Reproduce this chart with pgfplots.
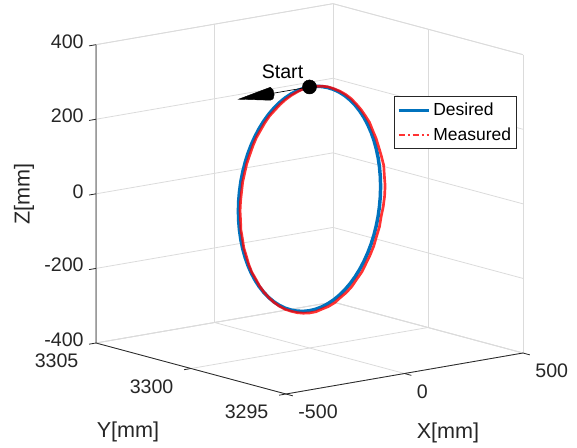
\documentclass[border=0pt]{standalone}
\usepackage{fontspec}
\setmainfont{Liberation Sans}
\usepackage{pgfplots}
\pgfplotsset{compat=1.18}
\usepackage{pgfplotstable}
\definecolor{mblue}{RGB}{0,114,189}
\definecolor{mred}{RGB}{255,0,0}
\definecolor{axgray}{RGB}{38,38,38}
\newcommand\tfont{\fontsize{14.7}{17}\selectfont}
\newcommand\lfont{\fontsize{16.2}{19}\selectfont}
\newcommand\gfont{\fontsize{13.1}{15}\selectfont}

% desired circle, r = 300 mm at Y = 3300 mm
\pgfplotstableread{
x y z
0 3300 300
-26.1 3300 298.9
-52.1 3300 295.4
-77.6 3300 289.8
-102.6 3300 281.9
-126.8 3300 271.9
-150 3300 259.8
-172.1 3300 245.7
-192.8 3300 229.8
-212.1 3300 212.1
-229.8 3300 192.8
-245.7 3300 172.1
-259.8 3300 150
-271.9 3300 126.8
-281.9 3300 102.6
-289.8 3300 77.6
-295.4 3300 52.1
-298.9 3300 26.1
-300 3300 0
-298.9 3300 -26.1
-295.4 3300 -52.1
-289.8 3300 -77.6
-281.9 3300 -102.6
-271.9 3300 -126.8
-259.8 3300 -150
-245.7 3300 -172.1
-229.8 3300 -192.8
-212.1 3300 -212.1
-192.8 3300 -229.8
-172.1 3300 -245.7
-150 3300 -259.8
-126.8 3300 -271.9
-102.6 3300 -281.9
-77.6 3300 -289.8
-52.1 3300 -295.4
-26.1 3300 -298.9
0 3300 -300
26.1 3300 -298.9
52.1 3300 -295.4
77.6 3300 -289.8
102.6 3300 -281.9
126.8 3300 -271.9
150 3300 -259.8
172.1 3300 -245.7
192.8 3300 -229.8
212.1 3300 -212.1
229.8 3300 -192.8
245.7 3300 -172.1
259.8 3300 -150
271.9 3300 -126.8
281.9 3300 -102.6
289.8 3300 -77.6
295.4 3300 -52.1
298.9 3300 -26.1
300 3300 0
298.9 3300 26.1
295.4 3300 52.1
289.8 3300 77.6
281.9 3300 102.6
271.9 3300 126.8
259.8 3300 150
245.7 3300 172.1
229.8 3300 192.8
212.1 3300 212.1
192.8 3300 229.8
172.1 3300 245.7
150 3300 259.8
126.8 3300 271.9
102.6 3300 281.9
77.6 3300 289.8
52.1 3300 295.4
26.1 3300 298.9
0 3300 300
}\desired

% measured path
\pgfplotstableread{
x y z
0 3300 300
-26.1 3300 297.9
-51.6 3300 292.5
-76.6 3300 285.9
-100.9 3300 277.2
-124.3 3300 266.5
-146.5 3300 253.7
-168.6 3300 240.8
-188.3 3300 224.5
-206.5 3300 206.5
-224.4 3300 188.3
-239.2 3300 167.5
-252.0 3300 145.5
-264.6 3300 123.4
-273.5 3300 99.5
-282.1 3300 75.6
-286.6 3300 50.5
-290.9 3300 25.5
-293 3300 0
-290.9 3300 -25.5
-289.5 3300 -51.1
-283.0 3300 -75.8
-277.2 3300 -100.9
-266.5 3300 -124.3
-256.3 3300 -148
-243.3 3300 -170.4
-226.7 3300 -190.3
-210.7 3300 -210.7
-192.2 3300 -229.0
-172.1 3300 -245.7
-150.5 3300 -260.7
-127.6 3300 -273.7
-103.6 3300 -284.7
-78.4 3300 -292.7
-52.8 3300 -299.4
-26.6 3300 -303.8
0 3300 -306
26.8 3300 -305.8
53.1 3300 -301.4
79.7 3300 -297.5
105.7 3300 -290.4
130.2 3300 -279.1
155 3300 -268.5
178.4 3300 -254.8
199.3 3300 -237.5
220.6 3300 -220.6
238.2 3300 -199.9
255.6 3300 -179.0
271.1 3300 -156.5
282.8 3300 -131.9
295.1 3300 -107.4
302.3 3300 -81.0
311.2 3300 -54.9
316.8 3300 -27.7
319 3300 0
315.8 3300 27.6
313.2 3300 55.2
303.3 3300 81.3
292.2 3300 106.4
281.0 3300 131.0
266.7 3300 154
253.1 3300 177.2
235.2 3300 197.3
216.4 3300 216.4
196.1 3300 233.6
174.9 3300 249.8
152 3300 263.3
128.1 3300 274.6
103.3 3300 283.8
78.2 3300 291.7
52.3 3300 296.4
26.1 3300 298.9
0 3300 300
}\measured

\begin{document}
\begin{tikzpicture}
\begin{axis}[
  x={(0.17775pt,0.03075pt)}, y={(-14.25pt,3.825pt)}, z={(0pt,0.27968pt)},
  xmin=-500, xmax=500, ymin=3295, ymax=3305, zmin=-400, zmax=400,
  xtick={-500,0,500}, xticklabels={-500,0,500},
  ytick={3295,3300,3305}, yticklabels={3295,3300,3305},
  ztick={-400,-200,0,200,400}, zticklabels={-400,-200,0,200,400},
  tick pos=left,
  grid=major, major grid style={black!14, line width=0.6pt},
  axis line style={black!14, line width=0.6pt},
  tick align=outside, major tick length=6pt,
  major tick style={draw=none},
  tick label style={font=\tfont, text=axgray},
  xticklabel style={anchor=west, yshift=-12pt},
  yticklabel style={xshift=-14pt, yshift=-1pt},
  label style={font=\lfont, text=axgray},
  clip=false,
  xlabel={X[mm]}, ylabel={Y[mm]}, zlabel={Z[mm]},
  xlabel style={at={(axis cs:0,3295,-400)}, anchor=center, xshift=32.6pt, yshift=-44.6pt},
  ylabel style={at={(axis cs:-500,3300,-400)}, anchor=center, xshift=-47.25pt, yshift=-47.6pt},
  zlabel style={at={(axis cs:-500,3305,0)}, anchor=center, yshift=54pt},
  legend style={at={(axis cs:500,3305,400)}, anchor=north west, xshift=45.75pt, yshift=-69.5pt,
    font=\gfont, draw=axgray, line width=0.6pt, inner xsep=2pt, inner ysep=2.8pt,
    row sep=3.2pt, cells={anchor=west}},
]
% front axis lines and their ticks
\draw[axgray, line width=0.6pt] (axis cs:-500,3305,400) -- (axis cs:-500,3305,-400)
  -- (axis cs:-500,3295,-400) -- (axis cs:500,3295,-400);
\draw[axgray, line width=0.6pt]
  (axis cs:-500,3305,400) -- ++(-5.2pt,-0.9pt)
  (axis cs:-500,3305,200) -- ++(-5.2pt,-0.9pt)
  (axis cs:-500,3305,0) -- ++(-5.2pt,-0.9pt)
  (axis cs:-500,3305,-200) -- ++(-5.2pt,-0.9pt)
  (axis cs:-500,3305,-400) -- ++(-5.2pt,-0.9pt)
  (axis cs:-500,3300,-400) -- ++(-5.2pt,-0.9pt)
  (axis cs:-500,3295,-400) -- ++(-5.2pt,-0.9pt)
  (axis cs:-500,3295,-400) -- ++(5.1pt,-1.4pt)
  (axis cs:0,3295,-400) -- ++(5.1pt,-1.4pt)
  (axis cs:500,3295,-400) -- ++(5.1pt,-1.4pt);
\coordinate (A) at (axis cs:-500,3305,-400);

\addplot3[mblue, line width=2.6pt,
  legend image code/.code={\draw[mblue, line width=2.2pt] (0pt,0pt) -- (23pt,0pt);}]
  table {\desired};
\addlegendentry{Desired}
\addplot3[mred, opacity=0.8, line width=2pt, line join=round,
  legend image code/.code={\draw[mred, line width=1.6pt, dash pattern=on 5pt off 2pt on 1.5pt off 2pt] (0pt,0pt) -- (23pt,0pt);}]
  table {\measured};
\addlegendentry{Measured}

% arrow at the start point
\addplot3[black, line width=0.5pt, forget plot] coordinates {(-165,3300,300) (0,3300,300)};
\addplot3[fill=black, draw=black, line width=0.3pt, forget plot] coordinates {
  (-300,3300,300) (-165,3300,317.4) (-165,3299.86,312) (-165,3299.8,300)
  (-165,3299.86,288) (-165,3300,282.6)} -- cycle;
\addplot3[only marks, mark=*, mark size=5.25pt, mark options={fill=black, draw=black}, forget plot]
  coordinates {(0,3300,300)};
\node[font=\tfont, xshift=-20.25pt, yshift=11.25pt] at (axis cs:0,3300,300) {Start};
\end{axis}
\pgfresetboundingbox
\path[use as bounding box] ([xshift=-72pt, yshift=257.25pt]A) rectangle ([xshift=360.75pt, yshift=-78.75pt]A);
\end{tikzpicture}
\end{document}
